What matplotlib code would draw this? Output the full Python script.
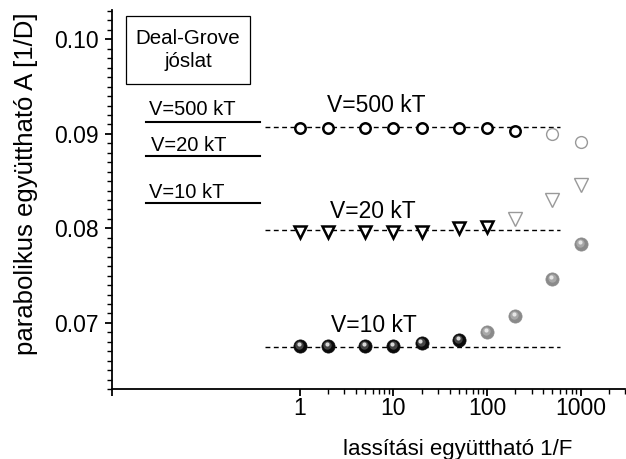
import matplotlib
matplotlib.use("Agg")
import matplotlib.pyplot as plt
import matplotlib.transforms as mtransforms
from matplotlib.patches import Rectangle
from matplotlib.ticker import FixedLocator, NullFormatter

plt.rcParams['font.family'] = ['Liberation Sans', 'DejaVu Sans']

# V=500 kT (open circles)
v500_x = [1, 2, 5, 10, 20, 50, 100, 200]
v500_y = [0.0906, 0.0906, 0.0906, 0.0906, 0.0906, 0.0906, 0.0906, 0.09035]
v500_gx = [500, 1000]
v500_gy = [0.0900, 0.0891]

# V=20 kT (open down triangles)
v20_x = [1, 2, 5, 10, 20, 50, 100]
v20_y = [0.0796, 0.0796, 0.0796, 0.0796, 0.0796, 0.0800, 0.0801]
v20_gx = [200, 500, 1000]
v20_gy = [0.0810, 0.0830, 0.0846]

# V=10 kT (spheres)
v10_x = [1, 2, 5, 10, 20, 50]
v10_y = [0.06753, 0.06753, 0.06753, 0.06753, 0.06782, 0.06817]
v10_gx = [100, 200, 500, 1000]
v10_gy = [0.06905, 0.07074, 0.07462, 0.07830]

# fitted plateau levels (dashed) and Deal-Grove predictions (solid)
fit_x = [0.43, 600]
fit_levels = [0.0907, 0.0798, 0.06746]
dg_x = [0.023, 0.38]
dg_levels = [0.09123, 0.0877, 0.0827]

xticks = [0.01, 1, 10, 100, 1000]
xticklabels = ['', '1', '10', '100', '1000']
yticks = [0.07, 0.08, 0.09, 0.10]
yticklabels = ['0.07', '0.08', '0.09', '0.10']

fig = plt.figure(figsize=(6.26, 4.59), dpi=100)
ax = fig.add_axes([0.1795, 0.1525, 0.8195, 0.8255])

for lev in fit_levels:
    ax.plot(fit_x, [lev, lev], ls=(0, (3.5, 2.5)), color='black', lw=1.0, zorder=1)
for lev in dg_levels:
    ax.plot(dg_x, [lev, lev], color='black', lw=1.5, zorder=1)

ax.plot(v500_x, v500_y, 'o', ms=7.5, mfc='white', mec='black', mew=1.8, zorder=3)
ax.plot(v500_gx, v500_gy, 'o', ms=8.5, mfc='white', mec='#999999', mew=1.0, zorder=3)
ax.plot(v20_x, v20_y, 'v', ms=9, mfc='white', mec='black', mew=1.8, zorder=3)
ax.plot(v20_gx, v20_gy, 'v', ms=9.5, mfc='white', mec='#999999', mew=1.0, zorder=3)


def spheres(xs, ys, base, mid, hi):
    ax.plot(xs, ys, 'o', ms=9.5, mfc=base, mec=base, mew=0.5, zorder=3)
    t1 = mtransforms.offset_copy(ax.transData, fig=fig, x=-0.6, y=0.9, units='points')
    ax.plot(xs, ys, 'o', ms=6, mfc=mid, mec='none', transform=t1, zorder=4)
    t2 = mtransforms.offset_copy(ax.transData, fig=fig, x=-0.8, y=1.6, units='points')
    ax.plot(xs, ys, 'o', ms=3, mfc=hi, mec='none', transform=t2, zorder=5)


spheres(v10_x, v10_y, '#0a0a0a', '#444444', '#d8d8d8')
spheres(v10_gx, v10_gy, '#8a8a8a', '#a8a8a8', '#e6e6e6')

ax.set_xscale('log')
ax.set_xlim(0.01, 3000)
ax.set_ylim(0.063, 0.1031)

ax.xaxis.set_major_locator(FixedLocator(xticks))
ax.set_xticklabels(xticklabels)
minors = [m * d for d in [1, 10, 100, 1000] for m in range(2, 10) if m * d <= 3000]
ax.xaxis.set_minor_locator(FixedLocator(minors))
ax.xaxis.set_minor_formatter(NullFormatter())

ax.set_yticks(yticks)
ax.set_yticklabels(yticklabels)
ax.yaxis.set_minor_locator(FixedLocator([0.063 + 0.001 * i for i in range(41)]))

ax.tick_params(which='major', direction='out', length=5, width=1.3, labelsize=16.5)
ax.tick_params(axis='x', which='major', pad=0.5)
ax.tick_params(axis='y', which='major', pad=5)
ax.tick_params(which='minor', direction='out', length=3.5, width=1.0)
for s in ['top', 'right']:
    ax.spines[s].set_visible(False)
for s in ['left', 'bottom']:
    ax.spines[s].set_linewidth(1.3)

ax.set_xlabel('lassítási együttható 1/F', fontsize=16)
ax.xaxis.set_label_coords(0.674, -0.133)
ax.set_ylabel('parabolikus együttható A [1/D]', fontsize=18.5)
ax.yaxis.set_label_coords(-0.145, 0.541)

fs = 16.5
ax.text(1.94, 0.0923, 'V=500 kT', fontsize=fs, va='baseline')
ax.text(2.09, 0.0811, 'V=20 kT', fontsize=fs, va='baseline')
ax.text(2.14, 0.06905, 'V=10 kT', fontsize=fs, va='baseline')
ax.text(0.0244, 0.0920, 'V=500 kT', fontsize=14.5, va='baseline')
ax.text(0.0256, 0.0882, 'V=20 kT', fontsize=14.5, va='baseline')
ax.text(0.0244, 0.08323, 'V=10 kT', fontsize=14.5, va='baseline')

ax.add_patch(Rectangle((0.026, 0.804), 0.243, 0.181, transform=ax.transAxes,
                       fill=False, ec='black', lw=0.9, zorder=2))
ax.text(0.1475, 0.894, 'Deal-Grove\njóslat', transform=ax.transAxes, fontsize=14.8,
        ha='center', va='center', linespacing=1.25)

fig.savefig('out.png', dpi=100)
